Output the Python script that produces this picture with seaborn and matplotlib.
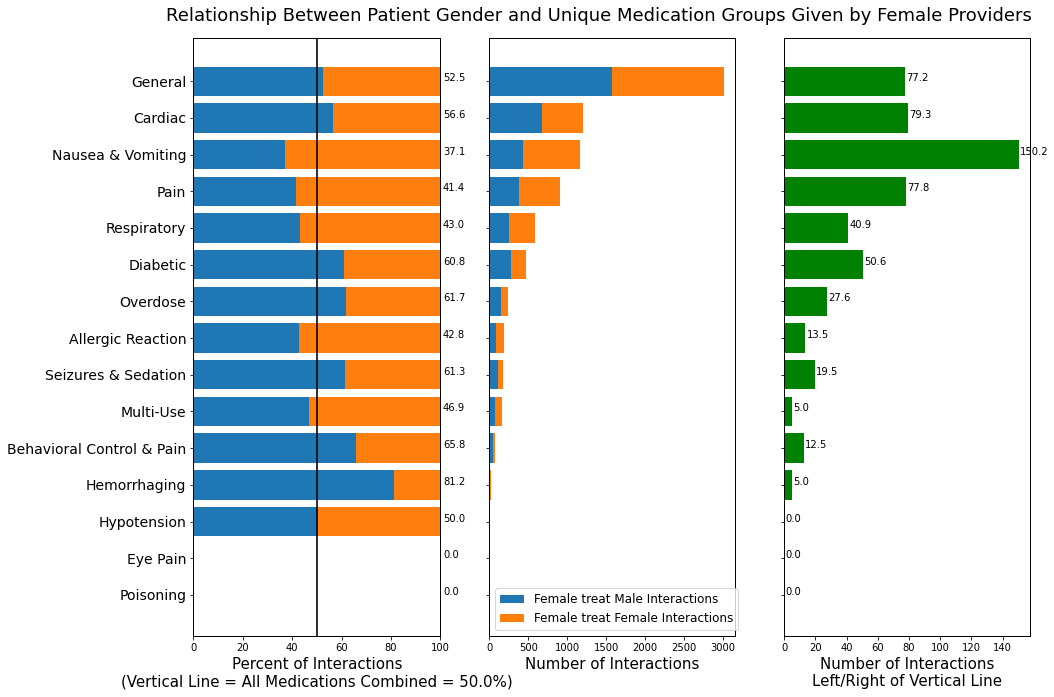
import numpy as np
import pandas as pd
import matplotlib
matplotlib.use("Agg")
import matplotlib.pyplot as plt
import seaborn as sns

# dados
categories = ['General', 'Cardiac', 'Nausea & Vomiting', 'Pain', 'Respiratory',
              'Diabetic', 'Overdose', 'Allergic Reaction', 'Seizures & Sedation',
              'Multi-Use', 'Behavioral Control & Pain', 'Hemorrhaging',
              'Hypotension', 'Eye Pain', 'Poisoning']
male_counts = [1578, 680, 432, 375, 251, 284, 145, 80, 106, 76, 52, 13, 1, 0, 0]
female_counts = [1427, 521, 732, 530, 333, 183, 90, 107, 67, 86, 27, 3, 1, 0, 0]
male_pct = [52.5, 56.6, 37.1, 41.4, 43.0, 60.8, 61.7, 42.8, 61.3, 46.9,
            65.8, 81.2, 50.0, 0.0, 0.0]
deviation = [77.2, 79.3, 150.2, 77.8, 40.9, 50.6, 27.6, 13.5, 19.5, 5.0,
             12.5, 5.0, 0.0, 0.0, 0.0]
overall_pct = 50.0

blue = '#1f77b4'
orange = '#ff7f0e'

df = pd.DataFrame({
    'category': categories,
    'male': male_counts,
    'female': female_counts,
    'male_pct': male_pct,
    'deviation': deviation,
})
df['total'] = df['male'] + df['female']
df['full_pct'] = np.where(df['total'] > 0, 100.0, 0.0)

fig = plt.figure(figsize=(1054 / 72, 697 / 72), dpi=72)
bottom, height = 0.0875, 0.8576
ax1 = fig.add_axes([0.1834, bottom, 0.2345, height])
ax2 = fig.add_axes([0.4642, bottom, 0.2334, height])
ax3 = fig.add_axes([0.7441, bottom, 0.2334, height])

# 1. percentual
sns.barplot(data=df, x='full_pct', y='category', color=orange, width=0.8,
            saturation=1, errorbar=None, orient='h', ax=ax1)
sns.barplot(data=df, x='male_pct', y='category', color=blue, width=0.8,
            saturation=1, errorbar=None, orient='h', ax=ax1)
ax1.axvline(overall_pct, color='black', lw=1.6)
for i, v in enumerate(df['male_pct']):
    ax1.text(101, i, f'{v:.1f}', fontsize=10, clip_on=False)
ax1.set_xlim(0, 100)
ax1.set_xlabel('Percent of Interactions\n(Vertical Line = All Medications Combined = %.1f%%)' % overall_pct,
               fontsize=15)
ax1.set_ylabel('')
ax1.tick_params(axis='y', labelsize=14)

# 2. contagens
sns.barplot(data=df, x='total', y='category', color=orange, width=0.8,
            saturation=1, errorbar=None, orient='h', ax=ax2,
            label='Female treat Female Interactions')
sns.barplot(data=df, x='male', y='category', color=blue, width=0.8,
            saturation=1, errorbar=None, orient='h', ax=ax2,
            label='Female treat Male Interactions')
ax2.set_xlim(0, df['total'].max() * 1.05)
ax2.set_xlabel('Number of Interactions', fontsize=15)
ax2.set_ylabel('')
ax2.set_yticklabels([])
handles, labels = ax2.get_legend_handles_labels()
ax2.legend(handles[::-1], labels[::-1], loc='lower left', fontsize=12)

# 3. desvio
sns.barplot(data=df, x='deviation', y='category', color='green', width=0.8,
            saturation=1, errorbar=None, orient='h', ax=ax3)
for i, v in enumerate(df['deviation']):
    ax3.text(v + 0.8, i, f'{v:.1f}', fontsize=10)
ax3.set_xlim(0, df['deviation'].max() * 1.05)
ax3.set_xlabel('Number of Interactions\nLeft/Right of Vertical Line', fontsize=15)
ax3.set_ylabel('')
ax3.set_yticklabels([])

for ax in (ax1, ax2, ax3):
    ax.set_ylim(15.12, -1.17)
    ax.tick_params(axis='x', labelsize=10)
    for s in ax.spines.values():
        s.set_color('black')
        s.set_linewidth(1)

fig.suptitle('Relationship Between Patient Gender and Unique Medication Groups Given by Female Providers',
             x=0.568, y=0.977, va='center', fontsize=18)

fig.savefig('out.png', dpi=72)
